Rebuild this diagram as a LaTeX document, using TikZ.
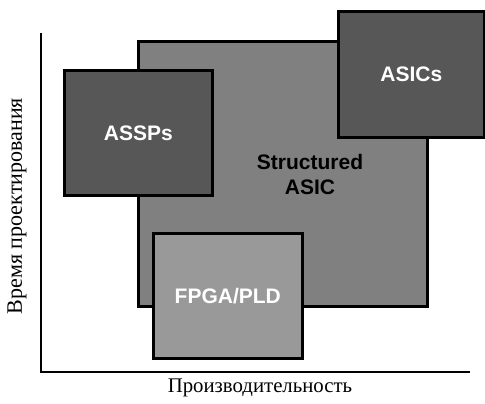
\documentclass[tikz,border=0pt]{standalone}
\usepackage{fontspec}
\setmainfont{Liberation Serif}
\newfontfamily\boxfont{Liberation Sans}
\begin{document}
\begin{tikzpicture}[x=1pt,y=-1pt,
  blk/.style={draw=black,line width=2.6pt,anchor=north west,inner sep=0pt,font=\boxfont\bfseries\fontsize{21}{24}\selectfont,align=center},
  axis/.style={line width=2.8pt},
  lbl/.style={inner sep=0pt}]
\useasboundingbox (0,0) rectangle (485,404);
\fill[white] (0,0) rectangle (485,404);
\coordinate (o) at (41,372);
\coordinate (ytop) at (41,33);
\coordinate (xend) at (470,372);
\draw[axis] (ytop) -- (o) -- (xend);
\node[blk,fill=black!50,minimum width=289pt,minimum height=265pt,text=black] (sa) at (137,40) {};
\node[font=\boxfont\bfseries\fontsize{21}{25}\selectfont,align=center] (satext) at (310,174) {Structured\\ASIC};
\node[blk,fill=black!66,minimum width=148pt,minimum height=125pt,text=white] (assp) at (63,69) {ASSPs};
\node[blk,fill=black!66,minimum width=146pt,minimum height=126pt,text=white] (asic) at (337,10) {ASICs};
\node[blk,fill=black!40,minimum width=149pt,minimum height=125pt,text=white] (fpga) at (152,232) {FPGA/PLD};
\node[lbl,font=\fontsize{20.8}{23}\selectfont] (xl) at (260,388) {Производительность};
\node[lbl,rotate=90,font=\fontsize{22}{24}\selectfont] (yl) at (17,206) {Время проектирования};
\end{tikzpicture}
\end{document}
